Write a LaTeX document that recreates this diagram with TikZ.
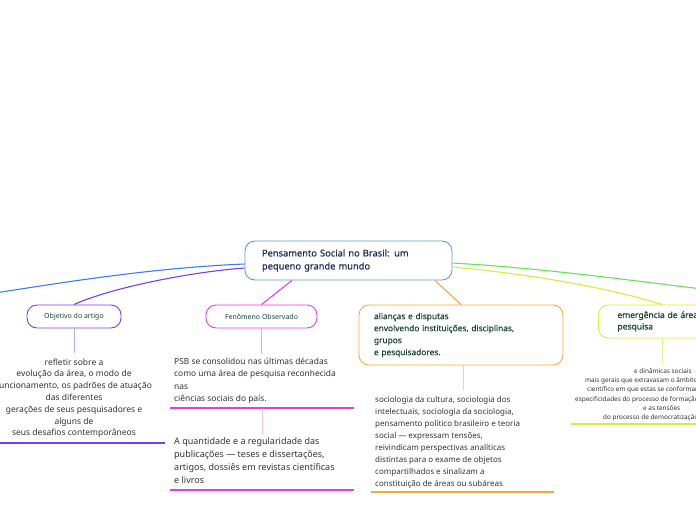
\documentclass[tikz,border=0pt]{standalone}
\usepackage{fontspec}
\setmainfont{Noto Sans}
\newfontfamily\medfont[FakeBold=0.35]{Noto Sans}
\definecolor{cborder}{HTML}{5DA0D8}
\definecolor{ctext}{HTML}{1F2A55}
\definecolor{cblue}{HTML}{3B7DF2}
\definecolor{cpurple}{HTML}{7A3CF0}
\definecolor{cmagenta}{HTML}{E23FE0}
\definecolor{corange}{HTML}{F7A940}
\definecolor{cyellow}{HTML}{D4EE3A}
\definecolor{cgreen}{HTML}{5FE84A}
\definecolor{lpurple}{HTML}{C6A5F6}
\definecolor{lmagenta}{HTML}{F2A3EE}
\definecolor{lorange}{HTML}{F9D09A}
\definecolor{lyellow}{HTML}{E6F28C}
\definecolor{dgreen}{HTML}{1A4533}
\definecolor{bodytxt}{HTML}{333333}
\begin{document}
\begin{tikzpicture}[x=1pt,y=-1pt,
  topic/.style={draw, rounded corners=10pt, fill=white, line width=0.9pt, inner ysep=0pt},
  conn/.style={line width=1.1pt},
  stem/.style={line width=1pt},
  uline/.style={line width=1.1pt},
  body/.style={inner sep=0pt, text=bodytxt, align=left},
  small/.style={inner sep=0pt, text=bodytxt, font=\fontsize{6.4}{9}\selectfont, anchor=base west}
]
\useasboundingbox (0,0) rectangle (696,520);

% central node
\node[topic, draw=cborder, minimum width=207pt, minimum height=39pt, text width=173pt,
      inner xsep=17pt, align=left, text=ctext, font=\medfont\fontsize{9.3}{13}\selectfont]
      (c) at (348.5,260.5) {Pensamento Social no Brasil: um\\pequeno grande mundo};

% main topics
\node[topic, draw=cpurple, minimum width=94pt, minimum height=23pt, text=dgreen,
      font=\fontsize{7}{9}\selectfont] (obj) at (74,316.5) {Objetivo do artigo};
\node[topic, draw=cmagenta, minimum width=111pt, minimum height=23pt, text=dgreen,
      font=\fontsize{7}{9}\selectfont] (fen) at (261.5,316.5) {Fenômeno Observado};
\node[topic, draw=corange, minimum width=204pt, minimum height=60pt, text width=174pt,
      inner xsep=15pt, align=left, text=dgreen, font=\medfont\fontsize{8.3}{12}\selectfont]
      (ali) at (461,335) {alianças e disputas\\envolvendo instituições, disciplinas,\\grupos\\e pesquisadores.};
\node[topic, draw=cyellow, minimum height=33pt, text width=100pt, inner xsep=19pt,
      align=left, text=dgreen, font=\medfont\fontsize{8.5}{11.5}\selectfont, anchor=west]
      (em) at (598,321.5) {emergência de áreas\\pesquisa};

% free ends
\coordinate (bl) at (-5,293);
\coordinate (gr) at (702,289);

% connectors from centre
\draw[conn, cblue] ([yshift=-3.5pt]c.west) .. controls (150,268) and (60,283) .. (bl);
\draw[conn, cpurple] ([yshift=-7.5pt]c.west) .. controls (190,272) and (110,288) .. (obj.north);
\draw[conn, cmagenta] (c.south -| 292,0) -- (fen.north);
\draw[conn, corange] (c.south -| 435,0) -- (ali.north);
\draw[conn, cyellow] ([yshift=-6.5pt]c.east) .. controls (530,274) and (610,288) .. (em.north -| 662,0);
\draw[conn, cgreen] ([yshift=-2.5pt]c.east) .. controls (540,268) and (620,279) .. (gr);

% Objetivo text
\node[body, align=center, anchor=north, font=\fontsize{8.5}{11.8}\selectfont] (objt) at (74,356.7)
  {\strut refletir sobre a\\evolução da área, o modo de\\funcionamento, os padrões de atuação\\das diferentes\\gerações de seus pesquisadores e\\alguns de\\seus desafios contemporâneos};
\draw[stem, lpurple] (obj.south) -- ([yshift=3.5pt]objt.north);
\draw[uline, cpurple] (0,443) -- (165,443);

% Fenômeno texts
\node[body, anchor=north west, font=\fontsize{8.4}{12.4}\selectfont] (fen1) at (174,355.7)
  {\strut PSB se consolidou nas últimas décadas\\como uma área de pesquisa reconhecida\\nas\\ciências sociais do país.};
\draw[stem, lmagenta] (fen.south) -- (fen.south |- 0,354);
\coordinate (fu1) at (262,408);
\draw[uline, cmagenta] (170,408) -- (354,408);
\node[body, anchor=north west, font=\fontsize{9}{13}\selectfont] (fen2) at (174,434.8)
  {\strut A quantidade e a regularidade das\\publicações — teses e dissertações,\\artigos, dossiês em revistas científicas\\e livros};
\draw[stem, lmagenta] (fu1) -- (fu1 |- fen2.north) -- +(0,-2.8);
\draw[uline, cmagenta] (170,490) -- (354,490);

% Alianças text
\node[body, anchor=north west, font=\fontsize{8}{12}\selectfont] (alit) at (375,394)
  {\strut sociologia da cultura, sociologia dos\\intelectuais, sociologia da sociologia,\\pensamento político brasileiro e teoria\\social — expressam tensões,\\reivindicam perspectivas analíticas\\distintas para o exame de objetos\\compartilhados e sinalizam a\\constituição de áreas ou subáreas};
\draw[stem, lorange] (ali.south -| 463,0) -- (463,390);
\draw[uline, corange] (371,492) -- (554,492);

% Emergência text
\node[small] (e1) at (634,373) {e dinâmicas sociais};
\node[small] (e2) at (585,382) {mais gerais que extravasam o âmbito};
\node[small] (e3) at (587,391.5) {científico em que estas se conformam};
\node[small] (e4) at (575,401) {especificidades do processo de formação};
\node[small] (e5) at (643,410) {e as tensões};
\node[small] (e6) at (603,419) {do processo de democratização};
\draw[stem, lyellow] (e1.north |- em.south) -- (e1.north |- 0,363);
\draw[uline, cyellow] (571,424) -- (702,424);
\end{tikzpicture}
\end{document}
